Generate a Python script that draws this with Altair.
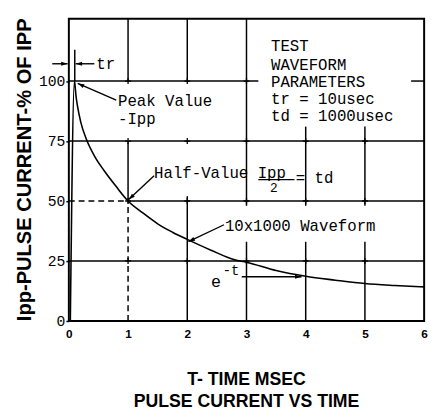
import math
import altair as alt
import pandas as pd

# ---------------- data ----------------
t_ms = [0.025, 0.095, 0.105, 0.12, 0.15, 0.2, 0.3, 0.45, 0.6, 0.8, 1.0, 1.25, 1.5,
        1.75, 2.0, 2.4, 2.8, 3.0, 3.5, 4.0, 4.5, 5.0, 5.5, 6.0]
ipp_pct = [0, 100, 98, 94, 89, 83, 75.5, 68, 62.5, 56, 50, 45, 40.5,
           37, 34, 29.5, 25.5, 24.5, 21, 18.6, 17, 15.6, 14.8, 14.2]

x_ticks = [0, 1, 2, 3, 4, 5, 6]
y_ticks = [0, 25, 50, 75, 100]

# grid segments (with the gaps seen in the scan)
h_y = [25, 50, 50, 75, 100, 100]
h_x0 = [0, 0, 1, 0, 0, 5.78]
h_x1 = [6, 1, 6, 6, 3.2, 6]
h_dash = [0, 1, 0, 0, 0, 0]

v_x = [1, 1, 1, 2, 2, 3, 3, 4, 4, 5, 5, 0.1]
v_y0 = [0, 50, 100, 0, 100, 0, 48, 0, 48, 0, 48, 100]
v_y1 = [50, 75, 126, 52, 126, 33, 126, 33, 81, 33, 81, 113]
v_dash = [1, 0, 0, 0, 0, 0, 0, 0, 0, 0, 0, 0]

# crosses at grid intersections
cross_x = [1, 2, 3, 4, 5, 1, 2, 3, 4, 5, 1, 2, 3, 4, 5, 1, 2, 3]
cross_y = [25, 25, 25, 25, 25, 50, 50, 50, 50, 50, 75, 75, 75, 75, 75, 100, 100, 100]

# arrows: start -> head
arr_x0 = [-0.28, 0.43, 0.80, 1.44, 2.62, 2.92]
arr_y0 = [107.2, 107.2, 92.0, 60.5, 40.1, 18.4]
arr_x1 = [-0.02, 0.115, 0.15, 1.01, 2.02, 3.93]
arr_y1 = [107.2, 107.2, 99.0, 50.6, 33.1, 18.4]

# annotation texts (left aligned, monospace)
note_text = ["tr", "Peak Value", "-Ipp", "Half-Value Ipp", "= td", "10x1000 Waveform",
             "TEST", "WAVEFORM", "PARAMETERS", "tr = 10usec", "td = 1000usec"]
note_x = [0.464, 0.83, 0.83, 1.44, 3.83, 2.635, 3.414, 3.414, 3.414, 3.414, 3.414]
note_y = [107.2, 91.6, 84.3, 61.8, 59.7, 39.7, 114.5, 106.8, 99.4, 92.5, 85.5]

frac_x0 = [3.2]
frac_x1 = [3.81]
frac_y = [58.9]

y_title = "Ipp-PULSE CURRENT-% OF IPP"
x_title_1 = "T- TIME MSEC"
x_title_2 = "PULSE CURRENT VS TIME"

# ---------------- layout ----------------
W, H = 362, 308
XD = [0, 6]
YD = [0, 126]
PX_T = W / (XD[1] - XD[0])
PX_V = H / (YD[1] - YD[0])
MONO = "Liberation Mono"
SANS = "Liberation Sans"

xs = alt.Scale(domain=XD, nice=False, zero=False)
ys = alt.Scale(domain=YD, nice=False, zero=False)

XAX = alt.Axis(values=x_ticks, format="d", title=None, grid=False, domain=False, ticks=False,
               labelFont=SANS, labelFontSize=12, labelFontWeight="bold", labelColor="black",
               labelPadding=8, labelFlush=False)
YAX = alt.Axis(values=y_ticks, title=None, grid=False, domain=False, tickSize=3, tickWidth=1.5,
               tickColor="black", labelFont=MONO, labelFontSize=15, labelColor="black",
               labelPadding=1)


def X(f):
    return alt.X(f, type="quantitative", scale=xs, axis=XAX)


def Y(f):
    return alt.Y(f, type="quantitative", scale=ys, axis=YAX)


curve_df = pd.DataFrame({"t": t_ms, "v": ipp_pct})
curve = alt.Chart(curve_df).mark_line(color="black", strokeWidth=1.6, interpolate="monotone").encode(
    x=X("t"), y=Y("v"))

hdf = pd.DataFrame({"y": h_y, "x0": h_x0, "x1": h_x1, "d": h_dash})
vdf = pd.DataFrame({"x": v_x, "y0": v_y0, "y1": v_y1, "d": v_dash})

h_solid = alt.Chart(hdf[hdf.d == 0]).mark_rule(color="black", strokeWidth=1.5).encode(
    x=X("x0"), x2="x1", y=Y("y"))
h_dashed = alt.Chart(hdf[hdf.d == 1]).mark_rule(color="black", strokeWidth=1.5, strokeDash=[6, 4]).encode(
    x=X("x0"), x2="x1", y=Y("y"))
v_solid = alt.Chart(vdf[vdf.d == 0]).mark_rule(color="black", strokeWidth=1.5).encode(
    x=X("x"), y=Y("y0"), y2="y1")
v_dashed = alt.Chart(vdf[vdf.d == 1]).mark_rule(color="black", strokeWidth=1.5, strokeDash=[6, 4]).encode(
    x=X("x"), y=Y("y0"), y2="y1")

cross_df = pd.DataFrame({"x": cross_x, "y": cross_y})
crosses = alt.Chart(cross_df).mark_point(shape="M-1,0L1,0M0,-1L0,1", size=36, filled=False,
                                         color="black", strokeWidth=1.3, opacity=1).encode(
    x=X("x"), y=Y("y"))

angles = []
for a, b, c, d in zip(arr_x0, arr_y0, arr_x1, arr_y1):
    dx = (c - a) * PX_T
    dy = -(d - b) * PX_V
    angles.append(math.degrees(math.atan2(dy, dx)) % 360)
arr_df = pd.DataFrame({"x0": arr_x0, "y0": arr_y0, "x1": arr_x1, "y1": arr_y1, "ang": angles})
arr_lines = alt.Chart(arr_df).mark_rule(color="black", strokeWidth=1.4).encode(
    x=X("x0"), x2="x1", y=Y("y0"), y2="y1")
arr_heads = alt.Chart(arr_df).mark_point(shape="M0,0L-2.2,-0.7L-2.2,0.7Z", size=36, filled=True,
                                         color="black", opacity=1).encode(
    x=X("x1"), y=Y("y1"), angle=alt.Angle("ang:Q", scale=None))

note_df = pd.DataFrame({"x": note_x, "y": note_y, "s": note_text})
notes = alt.Chart(note_df).mark_text(font=MONO, fontSize=16, align="left", baseline="middle",
                                     color="black").encode(x=X("x"), y=Y("y"), text="s:N")

frac_df = pd.DataFrame({"x0": frac_x0, "x1": frac_x1, "y": frac_y})
frac = alt.Chart(frac_df).mark_rule(color="black", strokeWidth=1.4).encode(x=X("x0"), x2="x1", y=Y("y"))
two = alt.Chart(pd.DataFrame({"x": [3.46], "y": [55.2], "s": ["2"]})).mark_text(
    font=MONO, fontSize=13, align="center", baseline="middle", color="black").encode(
    x=X("x"), y=Y("y"), text="s:N")
e_base = alt.Chart(pd.DataFrame({"x": [2.486], "y": [16.4], "s": ["e"]})).mark_text(
    font=MONO, fontSize=17, align="center", baseline="middle", color="black").encode(
    x=X("x"), y=Y("y"), text="s:N")
e_sup = alt.Chart(pd.DataFrame({"x": [2.60], "y": [20.9], "s": ["-t"]})).mark_text(
    font=MONO, fontSize=14, align="left", baseline="middle", color="black").encode(
    x=X("x"), y=Y("y"), text="s:N")

ytitle = alt.Chart(pd.DataFrame({"s": [y_title]})).mark_text(
    font=SANS, fontSize=20.5, fontWeight="bold", angle=270, align="center", baseline="middle",
    color="black").encode(x=alt.value(-45), y=alt.value(H / 2), text="s:N")
xtitle1 = alt.Chart(pd.DataFrame({"s": [x_title_1]})).mark_text(
    font=SANS, fontSize=18, fontWeight="bold", align="center", baseline="middle",
    color="black").encode(x=alt.value(W / 2), y=alt.value(368), text="s:N")
xtitle2 = alt.Chart(pd.DataFrame({"s": [x_title_2]})).mark_text(
    font=SANS, fontSize=18, fontWeight="bold", align="center", baseline="middle",
    color="black").encode(x=alt.value(W / 2), y=alt.value(391), text="s:N")

chart = alt.layer(
    curve, h_solid, h_dashed, v_solid, v_dashed, crosses, arr_lines, arr_heads,
    notes, frac, two, e_base, e_sup, ytitle, xtitle1, xtitle2
).properties(
    width=W, height=H, autosize="none",
    padding={"left": 62, "top": 7, "right": 7, "bottom": 94},
    background="white",
).configure_view(stroke="black", strokeWidth=2)

chart.save("out.html", embed_options={"renderer": "svg", "actions": False})
